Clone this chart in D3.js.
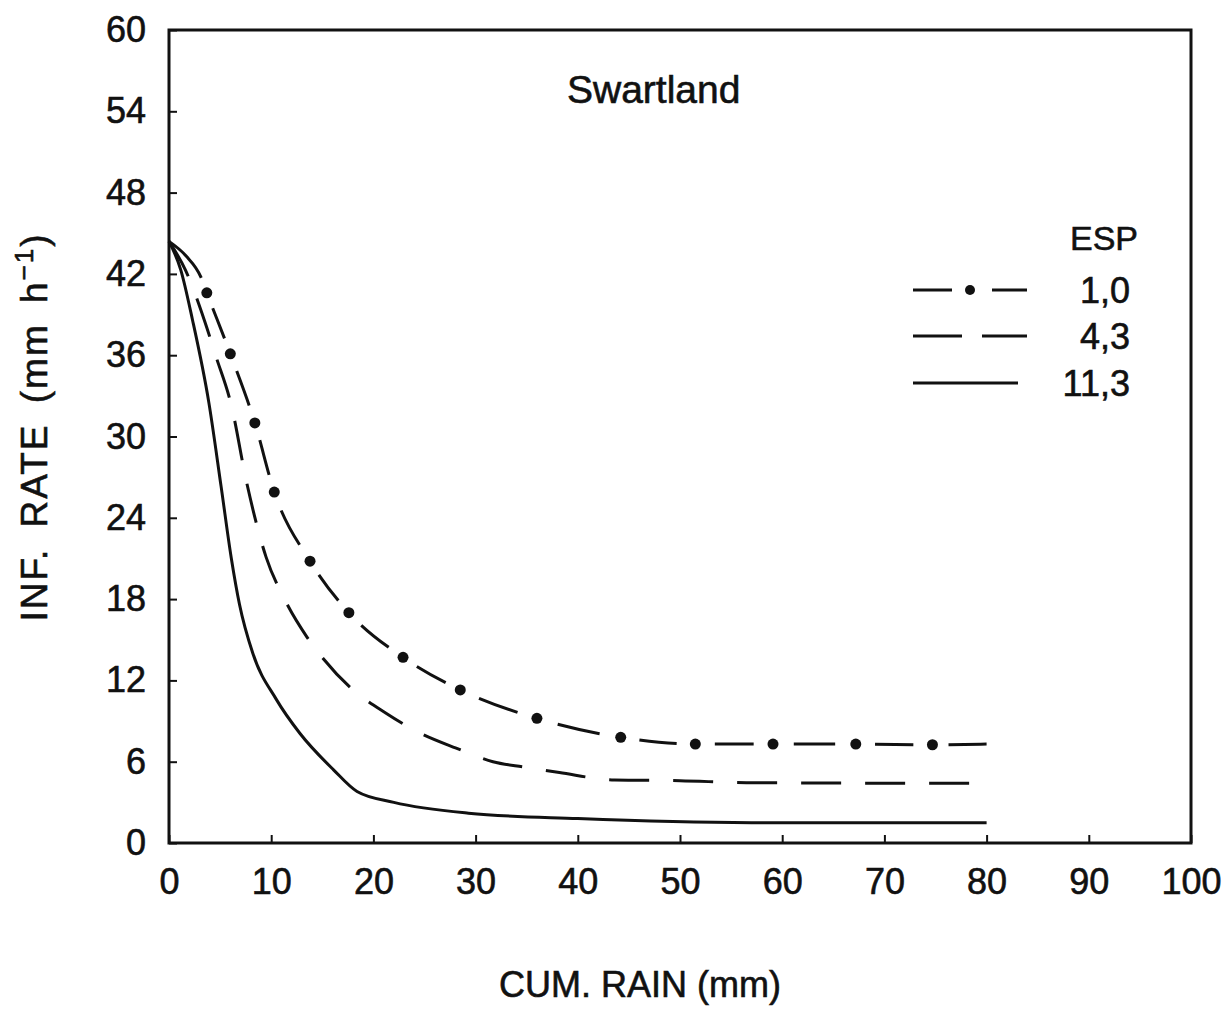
<!DOCTYPE html>
<html>
<head>
<meta charset="utf-8">
<script src="https://cdn.jsdelivr.net/npm/d3@7"></script>
<style>
  body { margin: 0; background: #fff; }
  text { font-family: "Liberation Sans", Arial, sans-serif; fill: #111; stroke: #111; stroke-width: 0.6px; }
</style>
</head>
<body>
<svg id="chart" width="1231" height="1017"></svg>
<script>
// values (cum. rain mm, inf. rate mm/h)
var esp10 = [[0,44.4],[1.7,43.3],[3.1,41.8],[3.7,40.6],[6.0,36.1],[8.4,31.0],[10.3,25.9],[13.8,20.8],[17.6,17.0],[22.9,13.7],[28.5,11.3],[36.0,9.2],[44.2,7.8],[51.5,7.3],[59.1,7.3],[67.2,7.3],[74.7,7.25],[80,7.3]];
var esp10Dots = [3.7,6.0,8.4,10.3,13.8,17.6,22.9,28.5,36.0,44.2,51.5,59.1,67.2,74.7];
var esp43 = [[0,44.4],[1.6,42.3],[3.45,38.6],[4.6,35.9],[6.1,32.3],[7.6,26.6],[9.5,21.1],[11.3,18.0],[13.5,15.2],[15.1,13.6],[17.7,11.5],[21.2,9.6],[24.6,8.1],[28.1,7.0],[31.7,6.0],[34.8,5.6],[38.2,5.2],[43.6,4.65],[50,4.6],[56.5,4.45],[80,4.4]];
var esp113 = [[0,44.4],[1.15,42.3],[2.3,38.6],[3.9,32.5],[5.1,26.3],[6.1,21.0],[6.9,17.6],[8.2,14.0],[10.5,10.6],[12.8,8.1],[16.1,5.4],[18.4,3.8],[22,3.0],[29.3,2.2],[40,1.8],[57,1.5],[80,1.5]];
var legendLabels = ["1,0", "4,3", "11,3"];
var xTicks = d3.range(0, 101, 10);
var yTicks = d3.range(0, 61, 6);

var svg = d3.select("#chart");
var x = d3.scaleLinear().domain([0, 100]).range([169, 1191]);
var y = d3.scaleLinear().domain([0, 60]).range([843, 30]);

var line = d3.line()
    .x(function(d) { return x(d[0]); })
    .y(function(d) { return y(d[1]); })
    .curve(d3.curveMonotoneX);

// frame
svg.append("rect")
    .attr("x", x(0)).attr("y", y(60))
    .attr("width", x(100) - x(0)).attr("height", y(0) - y(60))
    .attr("fill", "none").attr("stroke", "#111").attr("stroke-width", 3);

var yAxis = svg.append("g")
    .attr("transform", "translate(" + x(0) + ",0)")
    .call(d3.axisLeft(y).tickValues(yTicks).tickSize(-8).tickPadding(23).tickFormat(d3.format("d")));
var xAxis = svg.append("g")
    .attr("transform", "translate(0," + y(0) + ")")
    .call(d3.axisBottom(x).tickValues(xTicks).tickSize(-8).tickPadding(25).tickFormat(d3.format("d")));
[xAxis, yAxis].forEach(function(g) {
    g.select(".domain").remove();
    g.selectAll("line").attr("stroke", "#111").attr("stroke-width", 2);
    g.selectAll("text").attr("font-size", 36).style("font-family", "Liberation Sans, Arial, sans-serif").attr("fill", "#111");
});

// curves
svg.append("path").datum(esp113)
    .attr("d", line).attr("fill", "none").attr("stroke", "#111").attr("stroke-width", 3);

svg.append("path").datum(esp43)
    .attr("d", line).attr("fill", "none").attr("stroke", "#111").attr("stroke-width", 3)
    .attr("stroke-dasharray", "40,24");

var dd = svg.append("path").datum(esp10)
    .attr("d", line).attr("fill", "none").attr("stroke", "#111").attr("stroke-width", 3);

// dash between the dots: find each dot's arc length on the path
var node = dd.node();
var total = node.getTotalLength();
function lengthAtX(px) {
    var lo = 0, hi = total;
    for (var i = 0; i < 40; i++) {
        var mid = (lo + hi) / 2;
        if (node.getPointAtLength(mid).x < px) lo = mid; else hi = mid;
    }
    return (lo + hi) / 2;
}
var dotLen = esp10Dots.map(function(v) { return lengthAtX(x(v)); });
var gap = 16;
var dashes = [[0, dotLen[0] - gap]];
for (var i = 0; i < dotLen.length - 1; i++) {
    var seg = dotLen[i + 1] - dotLen[i];
    dashes.push([dotLen[i] + seg * 0.25, dotLen[i + 1] - seg * 0.25]);
}
dashes.push([dotLen[dotLen.length - 1] + gap, total]);
var pattern = [], pos = 0;
dashes.forEach(function(s) {
    if (pattern.length) pattern.push(s[0] - pos);
    pattern.push(s[1] - s[0]);
    pos = s[1];
});
pattern.push(total);
dd.attr("stroke-dasharray", pattern.join(","));

svg.selectAll(".dot").data(dotLen)
    .enter().append("circle")
    .attr("cx", function(l) { return node.getPointAtLength(l).x; })
    .attr("cy", function(l) { return node.getPointAtLength(l).y; })
    .attr("r", 5.5).attr("fill", "#111");

// titles
svg.append("text").attr("x", 567).attr("y", 103).attr("font-size", 39).text("Swartland");

svg.append("text").attr("x", 640).attr("y", 997).attr("text-anchor", "middle")
    .attr("font-size", 36).text("CUM. RAIN (mm)");

var yt = svg.append("text")
    .attr("transform", "translate(47,427) rotate(-90)")
    .attr("text-anchor", "middle").attr("font-size", 37)
    .style("word-spacing", "8px").style("letter-spacing", "2px");
yt.append("tspan").text("INF. RATE  (mm h");
yt.append("tspan").attr("font-size", 26).attr("dy", -14).text("\u22121");
yt.append("tspan").attr("dy", 14).text(")");

// legend
svg.append("text").attr("x", 1138).attr("y", 250).attr("text-anchor", "end")
    .attr("font-size", 34).text("ESP");
var legY = [290, 336, 383];
var lg = svg.append("g");
// 1,0
lg.append("line").attr("x1", 913).attr("x2", 952).attr("y1", legY[0]).attr("y2", legY[0]);
lg.append("line").attr("x1", 992).attr("x2", 1027).attr("y1", legY[0]).attr("y2", legY[0]);
lg.append("circle").attr("cx", 970).attr("cy", legY[0]).attr("r", 5).attr("fill", "#111");
// 4,3
lg.append("line").attr("x1", 913).attr("x2", 962).attr("y1", legY[1]).attr("y2", legY[1]);
lg.append("line").attr("x1", 982).attr("x2", 1027).attr("y1", legY[1]).attr("y2", legY[1]);
// 11,3
lg.append("line").attr("x1", 913).attr("x2", 1018).attr("y1", legY[2]).attr("y2", legY[2]);
lg.selectAll("line").attr("stroke", "#111").attr("stroke-width", 3);
lg.selectAll(".lab").data(legendLabels).enter().append("text")
    .attr("x", 1130).attr("y", function(d, i) { return legY[i] + 13; })
    .attr("text-anchor", "end").attr("font-size", 36).text(function(d) { return d; });
</script>
</body>
</html>
